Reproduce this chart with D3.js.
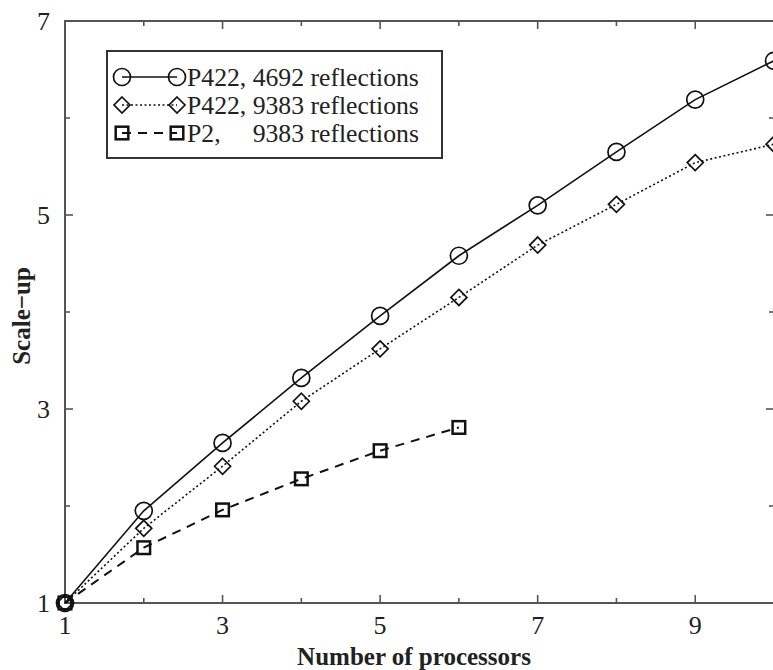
<!DOCTYPE html>
<html>
<head>
<meta charset="utf-8">
<script src="https://cdn.jsdelivr.net/npm/d3@7"></script>
<style>
  body { margin: 0; background: #fff; }
  svg text { font-family: "Liberation Serif", "DejaVu Serif", serif; fill: #222; }
</style>
</head>
<body>
<div id="chart"></div>
<script>
// processors on the x axis
let procs = [1, 2, 3, 4, 5, 6, 7, 8, 9, 10];
let procsP2 = [1, 2, 3, 4, 5, 6];

// scale-up values
let p422Small = [1, 1.95, 2.65, 3.32, 3.96, 4.58, 5.10, 5.65, 6.19, 6.59];
let p422Large = [1, 1.77, 2.41, 3.08, 3.62, 4.15, 4.69, 5.11, 5.54, 5.73];
let p2Large = [1, 1.57, 1.96, 2.28, 2.57, 2.81];

let seriesNames = ["P422, 4692 reflections", "P422, 9383 reflections", "P2,", "9383 reflections"];
let xTickValues = [1, 3, 5, 7, 9];
let yTickValues = [1, 3, 5, 7];

let w = 773, h = 670;
let m = {top: 21, right: -1, bottom: 67, left: 65};

let svg = d3.select("#chart")
  .append("svg")
  .attr("width", w)
  .attr("height", h);

let x = d3.scaleLinear().domain([1, 10]).range([m.left, w - m.right]);
let y = d3.scaleLinear().domain([1, 7]).range([h - m.bottom, m.top]);

let axisColor = "#555";

// frame
svg.append("rect")
  .attr("x", x(1)).attr("y", y(7))
  .attr("width", x(10) - x(1)).attr("height", y(1) - y(7))
  .attr("fill", "none")
  .attr("stroke", axisColor)
  .attr("stroke-width", 2);

// inward ticks on all four sides
let ticks = svg.append("g").attr("stroke", axisColor).attr("stroke-width", 1.6);
d3.range(2, 10).forEach((v) => {
  let len = v % 2 === 1 ? 8 : 5;
  ticks.append("line").attr("x1", x(v)).attr("x2", x(v)).attr("y1", y(1)).attr("y2", y(1) - len);
  ticks.append("line").attr("x1", x(v)).attr("x2", x(v)).attr("y1", y(7)).attr("y2", y(7) + len);
});
d3.range(2, 7).forEach((v) => {
  let len = v % 2 === 1 ? 8 : 5;
  ticks.append("line").attr("x1", x(1)).attr("x2", x(1) + len).attr("y1", y(v)).attr("y2", y(v));
  ticks.append("line").attr("x1", x(10)).attr("x2", x(10) - len).attr("y1", y(v)).attr("y2", y(v));
});

// tick labels
svg.selectAll(".xlab")
  .data(xTickValues)
  .enter()
  .append("text")
  .attr("x", (d) => x(d))
  .attr("y", y(1) + 31)
  .attr("text-anchor", "middle")
  .style("font-size", "26px")
  .text((d) => d);

svg.selectAll(".ylab")
  .data(yTickValues)
  .enter()
  .append("text")
  .attr("x", x(1) - 15)
  .attr("y", (d) => y(d) + 9)
  .attr("text-anchor", "end")
  .style("font-size", "26px")
  .text((d) => d);

// axis titles
svg.append("text")
  .attr("x", 414)
  .attr("y", 665)
  .attr("text-anchor", "middle")
  .style("font-size", "25px")
  .style("font-weight", "bold")
  .text("Number of processors");

svg.append("text")
  .attr("transform", "translate(30," + 316 + ") rotate(-90)")
  .attr("text-anchor", "middle")
  .style("font-size", "25px")
  .style("font-weight", "bold")
  .text("Scale\u2212up");

// series
let series = [
  {xs: procs, ys: p422Small, dash: null, width: 1.6, shape: "circle"},
  {xs: procs, ys: p422Large, dash: "2,2.5", width: 1.6, shape: "diamond"},
  {xs: procsP2, ys: p2Large, dash: "9,7", width: 2, shape: "square"}
];

let line = d3.line()
  .x((d) => x(d[0]))
  .y((d) => y(d[1]));

function drawMarker(g, shape, cx, cy) {
  if (shape === "circle") {
    g.append("circle").attr("cx", cx).attr("cy", cy).attr("r", 8.5)
      .attr("fill", "none").attr("stroke", "#111").attr("stroke-width", 1.7);
  } else if (shape === "diamond") {
    let s = 8;
    g.append("path")
      .attr("d", "M" + cx + "," + (cy - s) + "L" + (cx + s) + "," + cy + "L" + cx + "," + (cy + s) + "L" + (cx - s) + "," + cy + "Z")
      .attr("fill", "none").attr("stroke", "#111").attr("stroke-width", 1.7);
  } else {
    let s = 6.3;
    g.append("rect").attr("x", cx - s).attr("y", cy - s).attr("width", 2 * s).attr("height", 2 * s)
      .attr("fill", "none").attr("stroke", "#111").attr("stroke-width", 2.5);
  }
}

series.forEach((s) => {
  let pts = s.xs.map((v, i) => [v, s.ys[i]]);
  let p = svg.append("path")
    .datum(pts)
    .attr("d", line)
    .attr("fill", "none")
    .attr("stroke", "#111")
    .attr("stroke-width", s.width);
  if (s.dash) p.attr("stroke-dasharray", s.dash);
  let g = svg.append("g");
  pts.forEach((d) => drawMarker(g, s.shape, x(d[0]), y(d[1])));
});

// legend
let lg = svg.append("g");
lg.append("rect")
  .attr("x", 107).attr("y", 51)
  .attr("width", 335).attr("height", 107)
  .attr("fill", "#fff")
  .attr("stroke", "#333")
  .attr("stroke-width", 2);

let rowsY = [77, 105, 133];
series.forEach((s, i) => {
  let ly = rowsY[i];
  let l = lg.append("line")
    .attr("x1", 122).attr("x2", 177)
    .attr("y1", ly).attr("y2", ly)
    .attr("stroke", "#111")
    .attr("stroke-width", s.width);
  if (s.dash) l.attr("stroke-dasharray", s.dash);
  drawMarker(lg, s.shape, 122, ly);
  drawMarker(lg, s.shape, 177, ly);
});

let fs = "25.7px";
let tx = 187;
let t0 = lg.append("text").attr("x", tx).attr("y", rowsY[0] + 9).style("font-size", fs).text(seriesNames[0]);
lg.append("text").attr("x", tx).attr("y", rowsY[1] + 9).style("font-size", fs).text(seriesNames[1]);
lg.append("text").attr("x", tx).attr("y", rowsY[2] + 9).style("font-size", fs).text(seriesNames[2]);
let offset = t0.node().getSubStringLength(0, 6);
lg.append("text").attr("x", tx + offset).attr("y", rowsY[2] + 9).style("font-size", fs).text(seriesNames[3]);
</script>
</body>
</html>
